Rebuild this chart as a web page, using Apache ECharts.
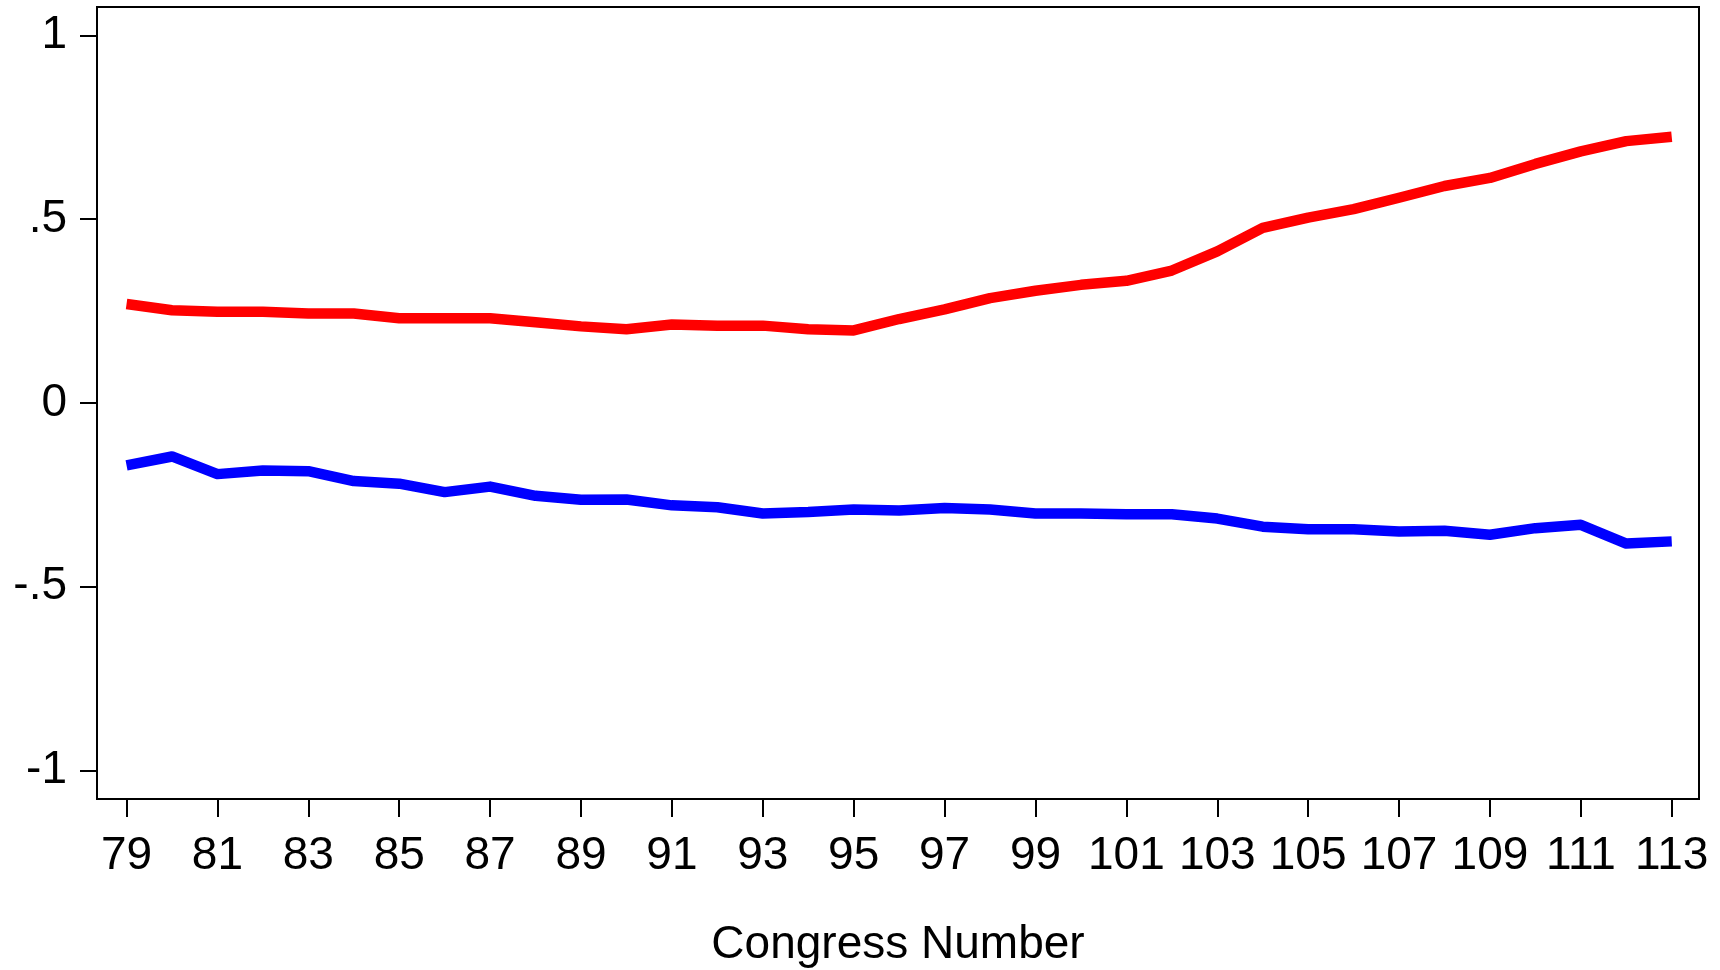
<!DOCTYPE html>
<html>
<head>
<meta charset="utf-8">
<script src="https://cdn.jsdelivr.net/npm/echarts@6/dist/echarts.min.js"></script>
<style>
html,body{margin:0;padding:0;background:#fff;}
#chart{width:1720px;height:970px;}
</style>
</head>
<body>
<div id="chart"></div>
<script>
// Congress numbers 79..113
const congresses = [79,80,81,82,83,84,85,86,87,88,89,90,91,92,93,94,95,96,97,98,99,100,101,102,103,104,105,106,107,108,109,110,111,112,113];
// Republican (red) series
const redValues = [0.269,0.252,0.248,0.248,0.243,0.243,0.230,0.230,0.230,0.219,0.208,0.200,0.213,0.210,0.210,0.200,0.197,0.228,0.254,0.285,0.305,0.321,0.332,0.360,0.412,0.476,0.504,0.527,0.558,0.590,0.612,0.650,0.684,0.712,0.724];
// Democratic (blue) series
const blueValues = [-0.170,-0.146,-0.194,-0.184,-0.186,-0.213,-0.220,-0.243,-0.228,-0.253,-0.264,-0.263,-0.279,-0.284,-0.301,-0.297,-0.290,-0.293,-0.286,-0.290,-0.301,-0.301,-0.303,-0.303,-0.315,-0.337,-0.344,-0.344,-0.350,-0.348,-0.359,-0.341,-0.332,-0.383,-0.377];
// Tick labels
const xTicks = [79,81,83,85,87,89,91,93,95,97,99,101,103,105,107,109,111,113];
const yTicks = [-1,-0.5,0,0.5,1];
const yTickLabels = {'-1':'-1','-0.5':'-.5','0':'0','0.5':'.5','1':'1'};

const chart = echarts.init(document.getElementById('chart'), null, {renderer:'canvas'});
const font = '"Liberation Sans", Arial, Helvetica, sans-serif';
chart.setOption({
  animation: false,
  backgroundColor: '#ffffff',
  grid: {left: 97, right: 21, top: 7, bottom: 171, show: true, borderColor: '#000', borderWidth: 2,
         backgroundColor: 'transparent', containLabel: false, outerBoundsMode: 'none'},
  xAxis: {
    type: 'value', min: 78.35, max: 113.6,
    name: 'Congress Number', nameLocation: 'middle', nameGap: 123,
    nameTextStyle: {fontFamily: font, fontSize: 46, color: '#000'},
    axisLine: {show: false, onZero: false},
    axisTick: {show: true, length: 18, customValues: xTicks, lineStyle: {color: '#000', width: 2}},
    axisLabel: {customValues: xTicks, margin: 34, fontFamily: font, fontSize: 46, color: '#000'},
    splitLine: {show: false}
  },
  yAxis: {
    type: 'value', min: -1.078, max: 1.077,
    axisLine: {show: false, onZero: false},
    axisTick: {show: true, length: 17, customValues: yTicks, lineStyle: {color: '#000', width: 2}},
    axisLabel: {customValues: yTicks, margin: 30, fontFamily: font, fontSize: 46, color: '#000',
      formatter: v => yTickLabels[String(Math.round(v*10)/10)] ?? String(v)},
    splitLine: {show: false}
  },
  series: [
    {type: 'line', data: congresses.map((c,i)=>[c, redValues[i]]), showSymbol: false, symbol: 'none',
     lineStyle: {color: '#ff0000', width: 10.5, cap: 'butt', join: 'round'}},
    {type: 'line', data: congresses.map((c,i)=>[c, blueValues[i]]), showSymbol: false, symbol: 'none',
     lineStyle: {color: '#0000ff', width: 10.5, cap: 'butt', join: 'round'}}
  ]
});
</script>
</body>
</html>
